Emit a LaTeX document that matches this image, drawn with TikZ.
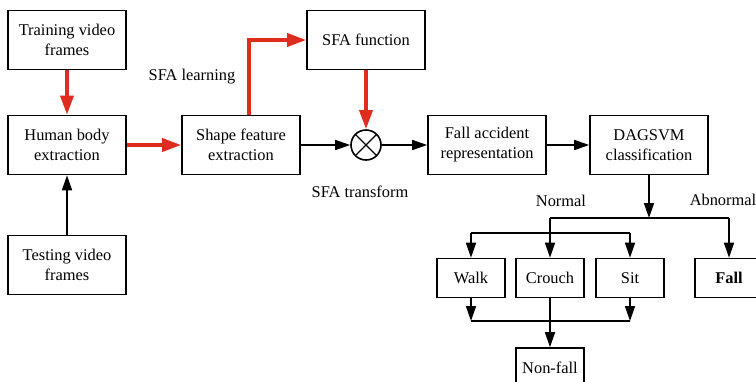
\documentclass[tikz,border=0pt]{standalone}
\usepackage{fontspec}
\setmainfont{Liberation Serif}
\usetikzlibrary{arrows.meta}
\definecolor{sfared}{RGB}{222,45,30}
\tikzstyle{block} = [rectangle, minimum width=118pt, minimum height=59pt, align=center, draw=black, line width=1.6pt, inner sep=2pt]
\tikzstyle{small} = [rectangle, minimum width=68pt, minimum height=39pt, text centered, draw=black, line width=1.6pt]
\tikzstyle{mult} = [circle, minimum size=30pt, inner sep=0pt, draw=black, line width=1.6pt, path picture={\draw[line width=1.4pt] (path picture bounding box.north west) -- (path picture bounding box.south east) (path picture bounding box.north east) -- (path picture bounding box.south west);}]
\tikzstyle{arrow} = [line width=1.6pt, -{Triangle[length=15pt,width=10pt]}]
\tikzstyle{line} = [line width=1.6pt]
\tikzstyle{redarrow} = [line width=3.5pt, draw=sfared, -{Triangle[length=19pt,width=13pt]}]
\tikzstyle{caption} = [inner sep=0pt]

\begin{document}
\begin{tikzpicture}[x=1pt, y=1pt, font=\fontsize{16.4}{20}\selectfont]
\useasboundingbox (0,0) rectangle (756,-381);

\node (train) [block] at (67,-40) {Training video\\frames};
\node (human) [block, below of=train, node distance=105pt] {Human body\\extraction};
\node (test) [block, below of=human, node distance=120pt] {Testing video\\frames};
\node (shape) [block, right of=human, node distance=174pt] {Shape feature\\extraction};
\node (mult) [mult, right of=shape, node distance=125pt] {};
\node (sfa) [block, above of=mult, node distance=105pt] {SFA function};
\node (far) [block, right of=mult, node distance=121pt] {Fall accident\\representation};
\node (dag) [block, right of=far, node distance=162pt] {DAGSVM\\classification};

% classes
\node (crouch) [small] at (550,-278) {Crouch};
\node (walk) [small, left of=crouch, node distance=79pt] {Walk};
\node (sit) [small, right of=crouch, node distance=80pt] {Sit};
\node (fall) [small, right of=sit, node distance=99pt] {\textbf{Fall}};
\node (nonfall) [small, below of=crouch, node distance=89.5pt] {Non-fall};

\node (learn) [caption] at (192,-77) {SFA learning};
\node (trans) [caption] at (360,-192) {SFA transform};
\node (normal) [caption] at (561,-201) {Normal};
\node (abnormal) [caption] at (723,-200) {Abnormal};

\coordinate (split) at (649,-218);
\coordinate (split2) at (550,-233);
\coordinate (merge) at (550,-321);

\draw [redarrow] (train) -- (human);
\draw [redarrow] (human) -- (shape);
\draw [redarrow] ([xshift=8pt]shape.north) |- (sfa.west);
\draw [redarrow] (sfa) -- (mult);
\draw [arrow] (test) -- (human);
\draw [arrow] (shape) -- (mult);
\draw [arrow] (mult) -- (far);
\draw [arrow] (far) -- (dag);

\draw [arrow] (dag) -- (split);
\draw [line] (crouch.north |- split) -- (fall.north |- split);
\draw [arrow] (crouch.north |- split) -- (crouch);
\draw [arrow] (fall.north |- split) -- (fall);
\draw [line] (walk.north |- split2) -- (sit.north |- split2);
\draw [arrow] (walk.north |- split2) -- (walk);
\draw [arrow] (sit.north |- split2) -- (sit);

\draw [arrow] (walk) -- (walk.south |- merge);
\draw [arrow] (sit) -- (sit.south |- merge);
\draw [line] (walk.south |- merge) -- (sit.south |- merge);
\draw [arrow] (crouch) -- (nonfall);

\end{tikzpicture}
\end{document}
